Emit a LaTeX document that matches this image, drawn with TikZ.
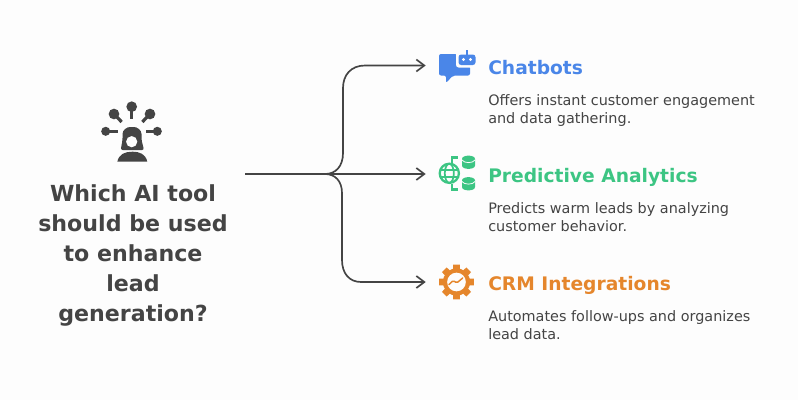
\documentclass[tikz,border=0pt]{standalone}
\usepackage{fontspec}
\setmainfont{DejaVu Sans}
\usepackage{tikz}
\usetikzlibrary{positioning,calc,arrows.meta}
\definecolor{mygray}{HTML}{444444}
\definecolor{myblue}{HTML}{4A86E8}
\definecolor{mygreen}{HTML}{3CC583}
\definecolor{myorange}{HTML}{E5862C}
\definecolor{mypaper}{HTML}{FDFDFD}
\tikzset{
  >=stealth,
  my question/.style={
    align=center,
    inner sep=0pt,
    text=mygray,
    font=\fontsize{16.6}{22.6}\selectfont\bfseries
  },
  my title/.style={
    anchor=base west,
    inner sep=0pt,
    font=\fontsize{14}{17}\selectfont\bfseries
  },
  my text/.style={
    anchor=north west,
    align=left,
    inner sep=0pt,
    text=mygray,
    font=\fontsize{10.8}{13.5}\selectfont
  },
  my icon/.style={
    minimum width=45pt,
    minimum height=30pt,
    inner sep=0pt
  },
  my wire/.style={
    draw=mygray,
    line width=1.25pt,
    -{Straight Barb[length=6pt,width=9pt,line width=1.25pt]}
  },
  my stem/.style={
    draw=mygray,
    line width=2.4pt
  }
}
\begin{document}
\begin{tikzpicture}[x=0.75pt,y=-0.75pt]
\useasboundingbox[fill=mypaper] (0,0) rectangle (798,400);

% person with the five tools
\foreach \x/\y/\u/\v/\r in {131.7/106.7/131.7/118.5/4,114/114/121.7/122/4,150/114/142.3/122/4,105.7/131.3/118.3/131.3/3.4,157.3/131.3/145.7/131.3/3.4}{
  \fill[mygray] (\x,\y) circle (\r pt);
  \draw[my stem] (\x,\y) -- (\u,\v);
}
\fill[mygray,rounded corners=1.5pt] (120.7,150) -- (122.5,140) -- (122.5,136) .. controls (122.5,130) and (127,127) .. (132,127) .. controls (137,127) and (141.5,130) .. (141.5,136) -- (141.5,140) -- (144,150) -- cycle;
\fill[mypaper] (131.7,141.7) circle (4.2pt);
\fill[mygray] (117.3,161.7) .. controls (119,154) and (125,151.7) .. (132.3,151.7) .. controls (140,151.7) and (145.5,154) .. (147.3,161.7) -- cycle;

\node[my question] (question) at (133,255.5) {Which AI tool\\should be used\\to enhance\\lead\\generation?};

% chat bubble and robot
\fill[myblue,rounded corners=1.5pt] (439,54) -- (457,54) -- (457,66) -- (470,66) -- (470,75.5) -- (453,75.5) -- (446,83) -- (446,75.5) -- (439,75.5) -- cycle;
\fill[mypaper,rounded corners=2pt] (456,51.5) rectangle (478,67.5);
\fill[myblue,rounded corners=2pt] (458.5,54.5) rectangle (475.5,65);
\draw[myblue,line width=1.4pt] (467,55) -- (467,50);
\fill[mypaper] (463.5,59.5) circle (1.2pt) (470.5,59.5) circle (1.2pt);
\node[my icon] (chatboticon) at (456,65.5) {};

% globe with two cylinders
\draw[mygreen,line width=1.7pt] (449.3,173.3) circle (7.2pt);
\draw[mygreen,line width=1.3pt] (449.3,173.3) ellipse (3.4pt and 7.2pt);
\draw[mygreen,line width=1.3pt] (439.5,169.8) -- (459,169.8) (439.5,176.8) -- (459,176.8);
\draw[mygreen,line width=1.6pt] (452,162.5) -- (452,157.5) -- (458,157.5) (452,184) -- (452,189.5) -- (458,189.5);
\foreach \y in {156,177.5}{
  \fill[mygreen] (462,\y+3) .. controls (462,\y-1.5) and (475,\y-1.5) .. (475,\y+3) -- (475,\y+9.5) .. controls (475,\y+14) and (462,\y+14) .. (462,\y+9.5) -- cycle;
  \draw[mypaper,line width=0.6pt] (462,\y+4) .. controls (464,\y+7.5) and (473,\y+7.5) .. (475,\y+4);
}
\node[my icon] (analyticsicon) at (456,174) {};

% gear
\foreach \a in {0,45,...,315}{
  \fill[myorange,rotate around={\a:(456.5,282)}] (452.5,283) -- (453.2,264.7) -- (459.8,264.7) -- (460.5,283) -- cycle;
}
\fill[myorange] (456.5,282) circle (10.2pt);
\fill[mypaper] (456.5,282) circle (7pt);
\draw[myorange,line width=1.1pt,line cap=round,rounded corners=1pt] (449,284.5) -- (453.3,280.5) -- (456.7,283) -- (462.7,278);
\node[my icon] (crmicon) at (456,282) {};

\node[my title,text=myblue] (chatbots) at (488,74) {Chatbots};
\node[my title,text=mygreen] (analytics) at (488,182) {Predictive Analytics};
\node[my title,text=myorange] (crm) at (488,290) {CRM Integrations};

\node[my text] (chatbotstext) at (488,94.5) {Offers instant customer engagement\\and data gathering.};
\node[my text] (analyticstext) at (488,202.5) {Predicts warm leads by analyzing\\customer behavior.};
\node[my text] (crmtext) at (488,310.5) {Automates follow-ups and organizes\\lead data.};

% the fork
\coordinate (start) at (245,174);
\coordinate (fork) at (325,174);
\draw[my wire] (start) -- (analyticsicon.west);
\draw[my wire] (fork) .. controls (336,174) and (343,166) .. (343,153) -- (343,88) .. controls (343,75) and (351,65.5) .. (365,65.5) -- (chatboticon.west);
\draw[my wire] (fork) .. controls (335,174) and (342,181) .. (342,193) -- (342,260) .. controls (342,273) and (349,282) .. (361,282) -- (crmicon.west);
\end{tikzpicture}
\end{document}
